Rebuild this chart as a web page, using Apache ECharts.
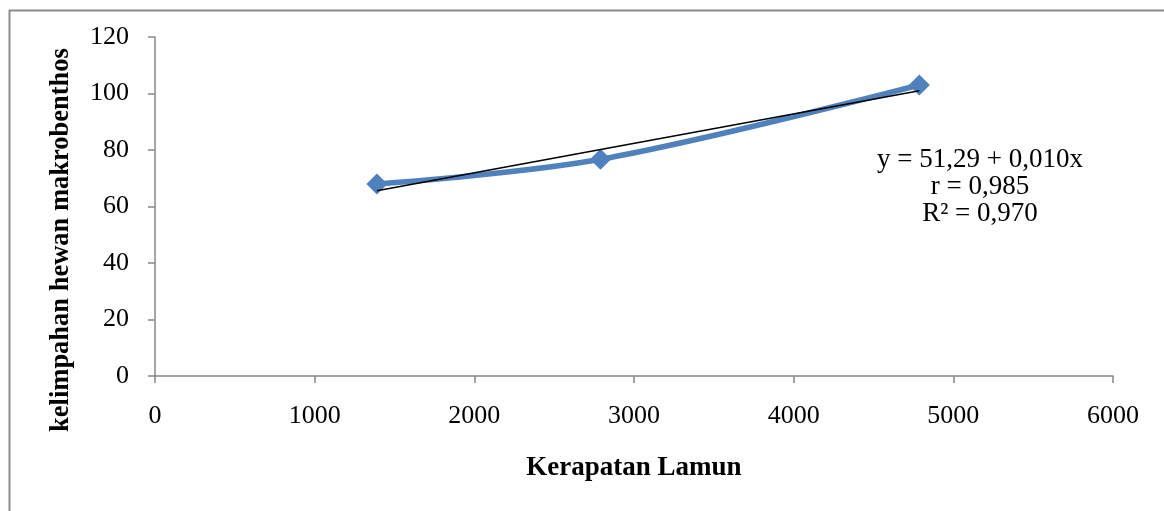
<!DOCTYPE html>
<html>
<head>
<meta charset="utf-8">
<script src="https://cdn.jsdelivr.net/npm/echarts@6/dist/echarts.min.js"></script>
<style>
html,body{margin:0;padding:0;background:#fff;}
#c{width:1164px;height:511px;}
</style>
</head>
<body>
<div id="c"></div>
<script>
var xValues = [1390, 2790, 4787];
var yValues = [68, 76.7, 103];
var trendX = [1390, 4787];
var trendY = [65.6, 101];
var xTicks = [0, 1000, 2000, 3000, 4000, 5000, 6000];
var yTicks = [0, 20, 40, 60, 80, 100, 120];
var xTitle = 'Kerapatan Lamun';
var yTitle = 'kelimpahan hewan makrobenthos';
var annotation = ['y = 51,29 + 0,010x', 'r = 0,985', 'R² = 0,970'];

var chart = echarts.init(document.getElementById('c'));
var font = '"Liberation Serif", "Times New Roman", serif';
chart.setOption({
  animation: false,
  backgroundColor: '#fff',
  grid: {left: 155, right: 51, top: 37, bottom: 135},
  xAxis: {
    type: 'value', min: xTicks[0], max: xTicks[xTicks.length - 1], interval: 1000,
    name: xTitle, nameLocation: 'middle', nameGap: 79,
    nameTextStyle: {fontFamily: font, fontSize: 27, fontWeight: 'bold', color: '#000'},
    axisLine: {show: true, lineStyle: {color: '#888', width: 1.5}},
    axisTick: {show: true, length: 7, lineStyle: {color: '#888', width: 1.5}},
    axisLabel: {fontFamily: font, fontSize: 26, color: '#000', margin: 27,
      formatter: function(v){ return String(v); }},
    splitLine: {show: false}
  },
  yAxis: {
    type: 'value', min: yTicks[0], max: yTicks[yTicks.length - 1], interval: 20,
    axisLine: {show: true, lineStyle: {color: '#888', width: 1.5}},
    axisTick: {show: true, length: 7, lineStyle: {color: '#888', width: 1.5}},
    axisLabel: {fontFamily: font, fontSize: 26, color: '#000', margin: 26,
      formatter: function(v){ return String(v); }},
    splitLine: {show: false}
  },
  series: [
    {
      type: 'line', smooth: 0.35,
      data: xValues.map(function(x, i){ return [x, yValues[i]]; }),
      symbol: 'diamond', symbolSize: 21,
      lineStyle: {color: '#4f81bd', width: 5.5},
      itemStyle: {color: '#4f81bd'},
      z: 2
    },
    {
      type: 'line',
      data: trendX.map(function(x, i){ return [x, trendY[i]]; }),
      symbol: 'none',
      lineStyle: {color: '#000', width: 1.5},
      z: 3
    }
  ],
  graphic: [
    {
      type: 'rect', left: 7, top: 8, silent: true,
      shape: {width: 1200, height: 560},
      style: {fill: 'none', stroke: '#8c8c8c', lineWidth: 2}
    },
    {
      type: 'text', x: 61, y: 240, rotation: Math.PI / 2,
      style: {
        text: yTitle, fontFamily: font, fontSize: 26.5, fontWeight: 'bold',
        fill: '#000', textAlign: 'center', textVerticalAlign: 'middle'
      }
    },
    {
      type: 'text', x: 980, y: 146,
      style: {
        text: annotation.join('\n'), fontFamily: font, fontSize: 27,
        lineHeight: 27, fill: '#000', textAlign: 'center'
      }
    }
  ]
});
</script>
</body>
</html>
